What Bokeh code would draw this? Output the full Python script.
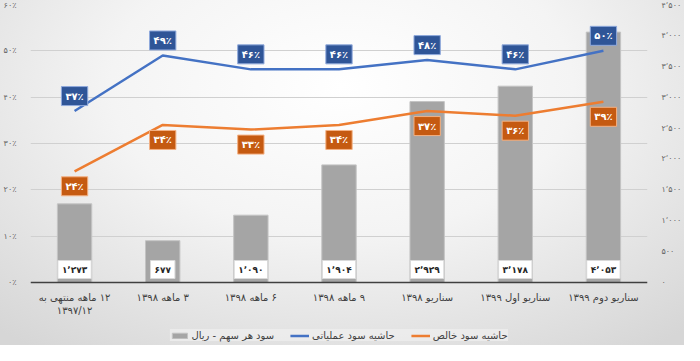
from bokeh.plotting import figure
from bokeh.models import (ColumnDataSource, Range1d, LinearAxis, FixedTicker,
                          Legend, LegendItem, FactorRange, Span)
from bokeh.core.properties import value
from bokeh.embed import file_html
from bokeh.resources import INLINE

RLM = "\u200f"
categories = ["۱۲ ماهه منتهی به\n۱۳۹۷/۱۲", "۳ ماهه ۱۳۹۸", "۶ ماهه ۱۳۹۸", "۹ ماهه ۱۳۹۸",
              "سناریو ۱۳۹۸", "سناریو اول ۱۳۹۹", "سناریو دوم ۱۳۹۹"]
eps = [1273, 677, 1090, 1904, 2929, 3178, 4053]
op_margin = [37, 49, 46, 46, 48, 46, 50]
net_margin = [24, 34, 33, 34, 37, 36, 39]
pct_ticks = [0, 10, 20, 30, 40, 50, 60]
eps_ticks = [0, 500, 1000, 1500, 2000, 2500, 3000, 3500, 4000, 4500]

FA = str.maketrans("0123456789", "۰۱۲۳۴۵۶۷۸۹")
def fa_num(v):
    return f"{v:,}".replace(",", "٬").translate(FA)
def fa_pct(v):
    return str(v).translate(FA) + "٪"

FONT = "DejaVu Sans"
factors = [RLM + c.replace("\n", "\n" + RLM) for c in categories]

# layout: frame 339px tall, the top 278px hold 0..60 %, the rest holds axis labels and legend
W, H = 684, 345
FRAME_H = H - 4 - 2
PCT_MAX = 60
EPS_MAX = 4500
low = -(FRAME_H - 278) / 278 * PCT_MAX

src = ColumnDataSource(dict(
    x=factors, eps=eps, op=op_margin, net=net_margin,
    eps_lbl=[fa_num(v) for v in eps],
    op_lbl=[fa_pct(v) for v in op_margin],
    net_lbl=[fa_pct(v) for v in net_margin],
    zero=[0] * len(eps),
))

p = figure(width=W, height=H, x_range=FactorRange(*factors),
           y_range=Range1d(low, PCT_MAX), output_backend="svg", toolbar_location=None,
           x_axis_location=None,
           min_border_left=27, min_border_right=35, min_border_top=4, min_border_bottom=2)
p.extra_y_ranges = {"eps": Range1d(low / PCT_MAX * EPS_MAX, EPS_MAX)}
p.background_fill_color = None
p.border_fill_color = None
p.outline_line_color = None
p.styles = {"background": "radial-gradient(ellipse 75% 95% at 50% 25%, #ffffff 0%, #f4f4f4 45%, #d6d6d6 100%)"}

p.xgrid.grid_line_color = None
p.ygrid.grid_line_color = "#d0d0d0"
p.ygrid.grid_line_width = 1
p.ygrid.ticker = FixedTicker(ticks=pct_ticks)

bars = p.vbar(x="x", top="eps", width=0.39, source=src, y_range_name="eps",
              fill_color="#a5a5a5", line_color="#c4c4c4", line_width=1)
l_op = p.line(x="x", y="op", source=src, line_color="#4472c4", line_width=2.5)
l_net = p.line(x="x", y="net", source=src, line_color="#ed7d31", line_width=2.5)

p.add_layout(Span(location=0, dimension="width", line_color="#404040", line_width=1.5))

ly = p.yaxis[0]
ly.ticker = FixedTicker(ticks=pct_ticks)
ly.major_label_overrides = {t: fa_pct(t) for t in pct_ticks}
ly.axis_line_color = None
ly.major_tick_line_color = None
ly.minor_tick_line_color = None
ly.major_label_text_font = FONT
ly.major_label_text_font_size = "8px"
ly.major_label_text_color = "#666666"
ly.major_label_standoff = 8

ry = LinearAxis(y_range_name="eps", ticker=FixedTicker(ticks=eps_ticks))
ry.major_label_overrides = {t: fa_num(t) for t in eps_ticks}
ry.axis_line_color = None
ry.major_tick_line_color = None
ry.minor_tick_line_color = None
ry.major_label_text_font = FONT
ry.major_label_text_font_size = "8px"
ry.major_label_text_color = "#666666"
ry.major_label_standoff = 8
p.add_layout(ry, "right")

# category labels under the zero line
p.text(x="x", y="zero", text="x", source=src, y_offset=9,
       text_align="center", text_baseline="top",
       text_font=value(FONT), text_font_size="10px", text_color="#404040",
       text_line_height=1.25)

p.text(x="x", y="zero", text="eps_lbl", source=src, y_range_name="eps",
       y_offset=-13, text_align="center", text_baseline="middle",
       text_font=value(FONT), text_font_size="9px", text_font_style="bold",
       text_color="#262626", background_fill_color="white",
       border_line_color="#d9d9d9", border_line_width=1, padding=4)
p.text(x="x", y="op", text="op_lbl", source=src,
       y_offset=-15, text_align="center", text_baseline="middle",
       text_font=value(FONT), text_font_size="10px", text_font_style="bold",
       text_color="white", background_fill_color="#2f5597",
       border_line_color="#8fa9dc", border_line_width=1, padding=4)
p.text(x="x", y="net", text="net_lbl", source=src,
       y_offset=15, text_align="center", text_baseline="middle",
       text_font=value(FONT), text_font_size="10px", text_font_style="bold",
       text_color="white", background_fill_color="#c55a11",
       border_line_color="#f4b183", border_line_width=1, padding=4)

legend = Legend(items=[
    LegendItem(label="سود هر سهم - ریال", renderers=[bars]),
    LegendItem(label="حاشیه سود عملیاتی", renderers=[l_op]),
    LegendItem(label="حاشیه سود خالص", renderers=[l_net]),
], orientation="horizontal", location="bottom_center",
    label_text_font=FONT, label_text_font_size="10px", label_text_color="#404040",
    background_fill_color="#ececec", background_fill_alpha=0.9,
    border_line_color=None, glyph_width=19, glyph_height=7, label_height=12,
    spacing=16, padding=5, margin=2, label_standoff=3)
p.add_layout(legend, "center")

open("out.html", "w").write(file_html(p, INLINE))
